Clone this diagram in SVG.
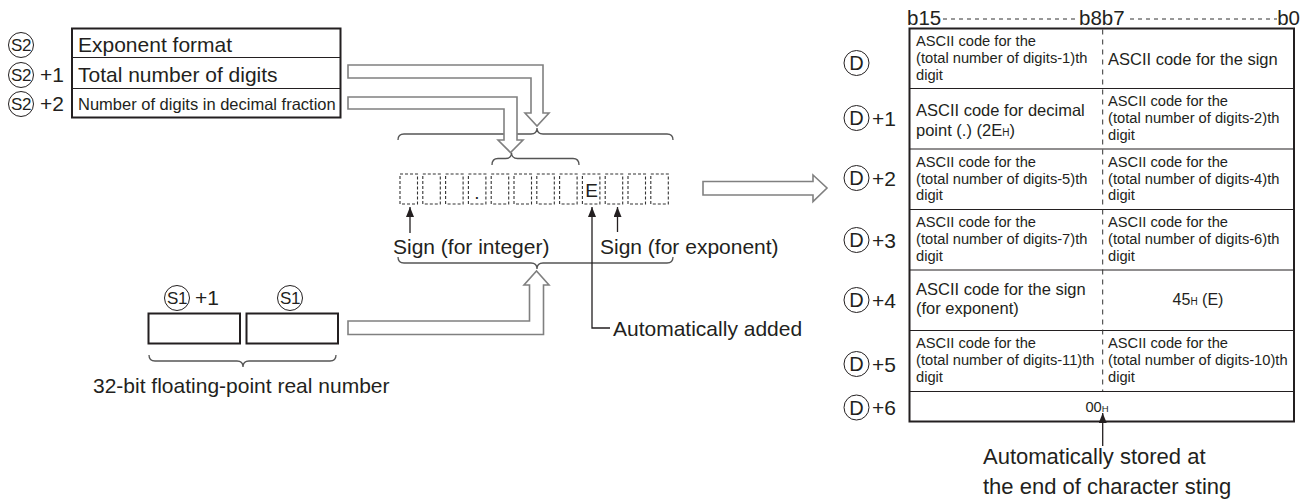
<svg xmlns="http://www.w3.org/2000/svg" width="1301" height="499" viewBox="0 0 1301 499">
<defs>
<style>
text{font-family:"Liberation Sans",Arial,sans-serif;fill:#231f20}
.t21{font-size:21px}
.t22{font-size:22px}
.t16{font-size:16.5px}
.t15{font-size:14.7px}
.cl{font-size:17px;letter-spacing:-0.5px}
.box{fill:#fff;stroke:#231f20;stroke-width:2}
.row{stroke:#231f20;stroke-width:1.2;fill:none}
.hollow{fill:#fff;stroke:#808080;stroke-width:1.6;stroke-linejoin:miter}
.brace{fill:none;stroke:#555;stroke-width:1.3}
.dbox{fill:none;stroke:#333;stroke-width:1.1;stroke-dasharray:3 2}
.circ{fill:none;stroke:#231f20;stroke-width:1}
.arr{fill:none;stroke:#231f20;stroke-width:1.3}
.dash{stroke:#333;stroke-width:1;stroke-dasharray:4 4;fill:none}
.vdash{stroke:#333;stroke-width:1;stroke-dasharray:5 5;fill:none}
</style>
<marker id="ah" viewBox="0 0 10 8" refX="10" refY="4" markerWidth="10" markerHeight="8" markerUnits="userSpaceOnUse" orient="auto">
<path d="M0,0 L10,4 L0,8 Z" fill="#231f20"/>
</marker>
</defs>
<rect width="1301" height="499" fill="#fff"/>

<g id="s2-table">
<rect class="box" x="72" y="28.5" width="268.5" height="89"/>
<line class="row" x1="72" y1="57.5" x2="340.5" y2="57.5"/>
<line class="row" x1="72" y1="88.5" x2="340.5" y2="88.5"/>
<text class="t21" x="78" y="52">Exponent format</text>
<text class="t21" x="78" y="82">Total number of digits</text>
<text class="t16" x="78" y="110">Number of digits in decimal fraction</text>
<circle class="circ" cx="21" cy="45" r="12.5"/>
<text class="cl" x="21" y="51" text-anchor="middle">S2</text>
<circle class="circ" cx="21" cy="75" r="12.5"/>
<text class="cl" x="21" y="81" text-anchor="middle">S2</text>
<text class="t21" x="40" y="82">+1</text>
<circle class="circ" cx="21" cy="104" r="12.5"/>
<text class="cl" x="21" y="110" text-anchor="middle">S2</text>
<text class="t21" x="40" y="111">+2</text>
</g>

<g id="s1-boxes">
<rect class="box" x="148.5" y="313.5" width="91.5" height="30"/>
<rect class="box" x="246.5" y="313.5" width="91.5" height="30"/>
<circle class="circ" cx="177" cy="298" r="12.5"/>
<text class="cl" x="177" y="304" text-anchor="middle">S1</text>
<text class="t21" x="195" y="305">+1</text>
<circle class="circ" cx="290" cy="298" r="12.5"/>
<text class="cl" x="290" y="304" text-anchor="middle">S1</text>
<text class="t21" x="93" y="393">32-bit floating-point real number</text>
</g>

<g id="char-string">
<rect class="dbox" x="400" y="174" width="17.5" height="30"/>
<rect class="dbox" x="422.8" y="174" width="17.5" height="30"/>
<rect class="dbox" x="445.6" y="174" width="17.5" height="30"/>
<rect class="dbox" x="468.4" y="174" width="17.5" height="30"/>
<rect class="dbox" x="491.2" y="174" width="17.5" height="30"/>
<rect class="dbox" x="514" y="174" width="17.5" height="30"/>
<rect class="dbox" x="536.8" y="174" width="17.5" height="30"/>
<rect class="dbox" x="559.6" y="174" width="17.5" height="30"/>
<rect class="dbox" x="582.4" y="174" width="17.5" height="30"/>
<rect class="dbox" x="605.2" y="174" width="17.5" height="30"/>
<rect class="dbox" x="628" y="174" width="17.5" height="30"/>
<rect class="dbox" x="650.8" y="174" width="17.5" height="30"/>
<text x="477" y="199" text-anchor="middle" style="font-size:19px">.</text>
<text x="591.5" y="197" text-anchor="middle" style="font-size:19px">E</text>
<text class="t21" x="393" y="254">Sign (for integer)</text>
<text class="t21" x="600" y="254">Sign (for exponent)</text>
<text class="t21" x="613" y="335.5">Automatically added</text>
</g>

<g id="d-table">
<text x="907" y="25" style="font-size:20.5px">b15</text>
<line class="dash" x1="943" y1="19" x2="1078" y2="19"/>
<text x="1079" y="25" style="font-size:20.5px">b8b7</text>
<line class="dash" x1="1130" y1="19" x2="1277" y2="19"/>
<text x="1300" y="25" text-anchor="end" style="font-size:20.5px">b0</text>
<rect class="box" x="909.5" y="28.5" width="384.5" height="393"/>
<line class="row" x1="909.5" y1="88.5" x2="1294" y2="88.5"/>
<line class="row" x1="909.5" y1="149" x2="1294" y2="149"/>
<line class="row" x1="909.5" y1="209.5" x2="1294" y2="209.5"/>
<line class="row" x1="909.5" y1="270" x2="1294" y2="270"/>
<line class="row" x1="909.5" y1="330.5" x2="1294" y2="330.5"/>
<line class="row" x1="909.5" y1="391.5" x2="1294" y2="391.5"/>
<line class="vdash" x1="1102.7" y1="29.5" x2="1102.7" y2="391"/>

<text class="t15" x="916" y="46.3">ASCII code for the</text>
<text class="t15" x="916" y="63">(total number of digits-1)th</text>
<text class="t15" x="916" y="79.7">digit</text>
<text class="t16" x="1108" y="64.5">ASCII code for the sign</text>

<text class="t16" x="916" y="116">ASCII code for decimal</text>
<text class="t16" x="916" y="135.5">point (.) (2E<tspan style="font-size:10px">H</tspan>)</text>
<text class="t15" x="1108" y="106.3">ASCII code for the</text>
<text class="t15" x="1108" y="123">(total number of digits-2)th</text>
<text class="t15" x="1108" y="139.7">digit</text>

<text class="t15" x="916" y="166.8">ASCII code for the</text>
<text class="t15" x="916" y="183.5">(total number of digits-5)th</text>
<text class="t15" x="916" y="200.2">digit</text>
<text class="t15" x="1108" y="166.8">ASCII code for the</text>
<text class="t15" x="1108" y="183.5">(total number of digits-4)th</text>
<text class="t15" x="1108" y="200.2">digit</text>

<text class="t15" x="916" y="227.3">ASCII code for the</text>
<text class="t15" x="916" y="244">(total number of digits-7)th</text>
<text class="t15" x="916" y="260.7">digit</text>
<text class="t15" x="1108" y="227.3">ASCII code for the</text>
<text class="t15" x="1108" y="244">(total number of digits-6)th</text>
<text class="t15" x="1108" y="260.7">digit</text>

<text class="t16" x="916" y="295">ASCII code for the sign</text>
<text class="t16" x="916" y="314">(for exponent)</text>
<text class="t16" x="1198" y="305" text-anchor="middle" style="font-size:16px">45<tspan style="font-size:10px">H</tspan> (E)</text>

<text class="t15" x="916" y="348.3">ASCII code for the</text>
<text class="t15" x="916" y="365">(total number of digits-11)th</text>
<text class="t15" x="916" y="381.7">digit</text>
<text class="t15" x="1108" y="348.3">ASCII code for the</text>
<text class="t15" x="1108" y="365">(total number of digits-10)th</text>
<text class="t15" x="1108" y="381.7">digit</text>

<text class="t15" x="1097" y="411.5" text-anchor="middle">00<tspan style="font-size:9.5px">H</tspan></text>

<circle class="circ" cx="856.5" cy="63" r="12.5"/>
<text x="856.5" y="70" text-anchor="middle" style="font-size:20px">D</text>
<circle class="circ" cx="856.5" cy="118" r="12.5"/>
<text x="856.5" y="125" text-anchor="middle" style="font-size:20px">D</text>
<text class="t21" x="872" y="125.5">+1</text>
<circle class="circ" cx="856.5" cy="178" r="12.5"/>
<text x="856.5" y="185" text-anchor="middle" style="font-size:20px">D</text>
<text class="t21" x="872" y="185.5">+2</text>
<circle class="circ" cx="856.5" cy="240" r="12.5"/>
<text x="856.5" y="247" text-anchor="middle" style="font-size:20px">D</text>
<text class="t21" x="872" y="247.5">+3</text>
<circle class="circ" cx="856.5" cy="300" r="12.5"/>
<text x="856.5" y="307" text-anchor="middle" style="font-size:20px">D</text>
<text class="t21" x="872" y="307.5">+4</text>
<circle class="circ" cx="856.5" cy="364" r="12.5"/>
<text x="856.5" y="371" text-anchor="middle" style="font-size:20px">D</text>
<text class="t21" x="872" y="371.5">+5</text>
<circle class="circ" cx="856.5" cy="407.5" r="12.5"/>
<text x="856.5" y="414.5" text-anchor="middle" style="font-size:20px">D</text>
<text class="t21" x="872" y="415">+6</text>

<text class="t22" x="983" y="464">Automatically stored at</text>
<text class="t22" x="983" y="494">the end of character sting</text>
</g>

<g id="connectors">
<path class="brace" d="M398,140 Q398,134 404,134 H531 Q537,134 537,128 Q537,134 543,134 H667 Q673,134 673,140"/>
<path class="brace" d="M492,165 Q492,158.5 498,158.5 H505.5 Q511.5,158.5 511.5,152.5 Q511.5,158.5 517.5,158.5 H573 Q579,158.5 579,165"/>
<path class="brace" d="M398,257 Q398,263 404,263 H531 Q537,263 537,269 Q537,263 543,263 H667 Q673,263 673,257"/>
<path class="brace" d="M149,355 Q149,361 155,361 H237 Q243,361 243,367 Q243,361 249,361 H330 Q336,361 336,355"/>
<path class="hollow" d="M348,65 H543 V113 H549 L537,126 L525,113 H531 V78 H348 Z"/>
<path class="hollow" d="M348,97 H517 V140 H523 L510.5,152.5 L498,140 H504 V109 H348 Z"/>
<path class="hollow" d="M348,321 H529.5 V285 H524 L536.5,271 L549,285 H543.5 V334.5 H348 Z"/>
<path class="hollow" d="M703,181.5 H813 V175 L827,188 L813,201.5 V195 H703 Z"/>
<path class="arr" d="M410,233 V207" marker-end="url(#ah)"/>
<path class="arr" d="M610,328 H592 V207" marker-end="url(#ah)"/>
<path class="arr" d="M617.5,232 V207" marker-end="url(#ah)"/>
<path class="arr" d="M1102.7,446 V413" marker-end="url(#ah)"/>
</g>
</svg>
